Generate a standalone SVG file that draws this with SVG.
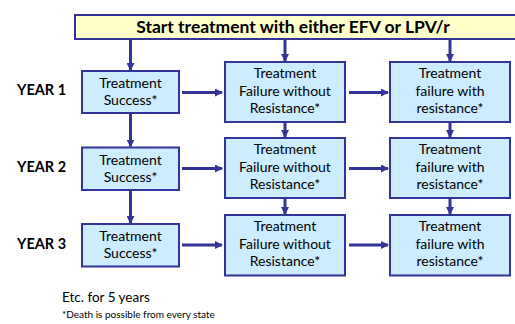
<svg xmlns="http://www.w3.org/2000/svg" width="515" height="324" viewBox="0 0 515 324">
<style>
.box{fill:#CCECFF;stroke:#333399;stroke-width:2}
.top{fill:#FFFFCC;stroke:#333399;stroke-width:2}
.t{font-family:Lato,"Open Sans",sans-serif;font-size:14px;fill:#000;text-anchor:middle}
.yr{font-family:Lato,"Open Sans",sans-serif;font-size:14.5px;font-weight:bold;fill:#000}
.c{stroke:#333399;stroke-width:3;fill:none;marker-end:url(#ah)}
</style>
<defs>
<marker id="ah" viewBox="0 0 8 8" refX="7" refY="4" markerWidth="8" markerHeight="8" markerUnits="userSpaceOnUse" orient="auto">
<path d="M0,0 L8,4 L0,8 z" fill="#333399"/>
</marker>
</defs>
<rect width="515" height="324" fill="#fff"/>
<g id="start">
<rect class="top" x="75" y="15" width="450" height="24"/>
<text x="293" y="32.5" font-family="Lato,'Open Sans',sans-serif" font-size="17.5" font-weight="bold" text-anchor="middle">Start treatment with either EFV or LPV/r</text>
</g>
<g id="labels">
<text class="yr" x="17" y="95">YEAR 1</text>
<text class="yr" x="17" y="172">YEAR 2</text>
<text class="yr" x="17" y="249">YEAR 3</text>
</g>
<g id="s1"><rect class="box" x="82" y="71" width="97" height="42"/><text class="t" x="130.5" y="88">Treatment</text><text class="t" x="130.5" y="105">Success*</text></g>
<g id="f1"><rect class="box" x="225" y="62" width="120" height="60"/><text class="t" x="285" y="78">Treatment</text><text class="t" x="285" y="95.5">Failure without</text><text class="t" x="285" y="113">Resistance*</text></g>
<g id="r1"><rect class="box" x="390" y="62" width="120" height="60"/><text class="t" x="450" y="78">Treatment</text><text class="t" x="450" y="95.5">failure with</text><text class="t" x="450" y="113">resistance*</text></g>
<g id="s2"><rect class="box" x="82" y="147.5" width="97" height="42.5"/><text class="t" x="130.5" y="164.5">Treatment</text><text class="t" x="130.5" y="181.5">Success*</text></g>
<g id="f2"><rect class="box" x="225" y="138" width="120" height="60"/><text class="t" x="285" y="154">Treatment</text><text class="t" x="285" y="171.5">Failure without</text><text class="t" x="285" y="189">Resistance*</text></g>
<g id="r2"><rect class="box" x="390" y="138" width="120" height="60"/><text class="t" x="450" y="154">Treatment</text><text class="t" x="450" y="171.5">failure with</text><text class="t" x="450" y="189">resistance*</text></g>
<g id="s3"><rect class="box" x="82" y="224" width="97" height="42.5"/><text class="t" x="130.5" y="241">Treatment</text><text class="t" x="130.5" y="258">Success*</text></g>
<g id="f3"><rect class="box" x="225" y="215" width="120" height="60.5"/><text class="t" x="285" y="231">Treatment</text><text class="t" x="285" y="248.5">Failure without</text><text class="t" x="285" y="266">Resistance*</text></g>
<g id="r3"><rect class="box" x="390" y="215" width="120" height="60.5"/><text class="t" x="450" y="231">Treatment</text><text class="t" x="450" y="248.5">failure with</text><text class="t" x="450" y="266">resistance*</text></g>
<g id="connectors">
<line class="c" x1="130.5" y1="40" x2="130.5" y2="70"/>
<line class="c" x1="285" y1="40" x2="285" y2="61"/>
<line class="c" x1="450" y1="40" x2="450" y2="61"/>
<line class="c" x1="182" y1="92.5" x2="222" y2="92.5"/>
<line class="c" x1="349" y1="92.5" x2="388" y2="92.5"/>
<line class="c" x1="130.5" y1="114" x2="130.5" y2="146.5"/>
<line class="c" x1="285" y1="123" x2="285" y2="137"/>
<line class="c" x1="450" y1="123" x2="450" y2="137"/>
<line class="c" x1="182" y1="168.5" x2="222" y2="168.5"/>
<line class="c" x1="349" y1="168.5" x2="388" y2="168.5"/>
<line class="c" x1="130.5" y1="191" x2="130.5" y2="223"/>
<line class="c" x1="285" y1="199" x2="285" y2="214"/>
<line class="c" x1="450" y1="199" x2="450" y2="214"/>
<line class="c" x1="182" y1="245" x2="222" y2="245"/>
<line class="c" x1="349" y1="245" x2="388" y2="245"/>
</g>
<text x="62" y="302" font-family="Lato,'Open Sans',sans-serif" font-size="13.5">Etc. for 5 years</text>
<text x="62" y="318" font-family="Lato,'Open Sans',sans-serif" font-size="10">*Death is possible from every state</text>
</svg>
